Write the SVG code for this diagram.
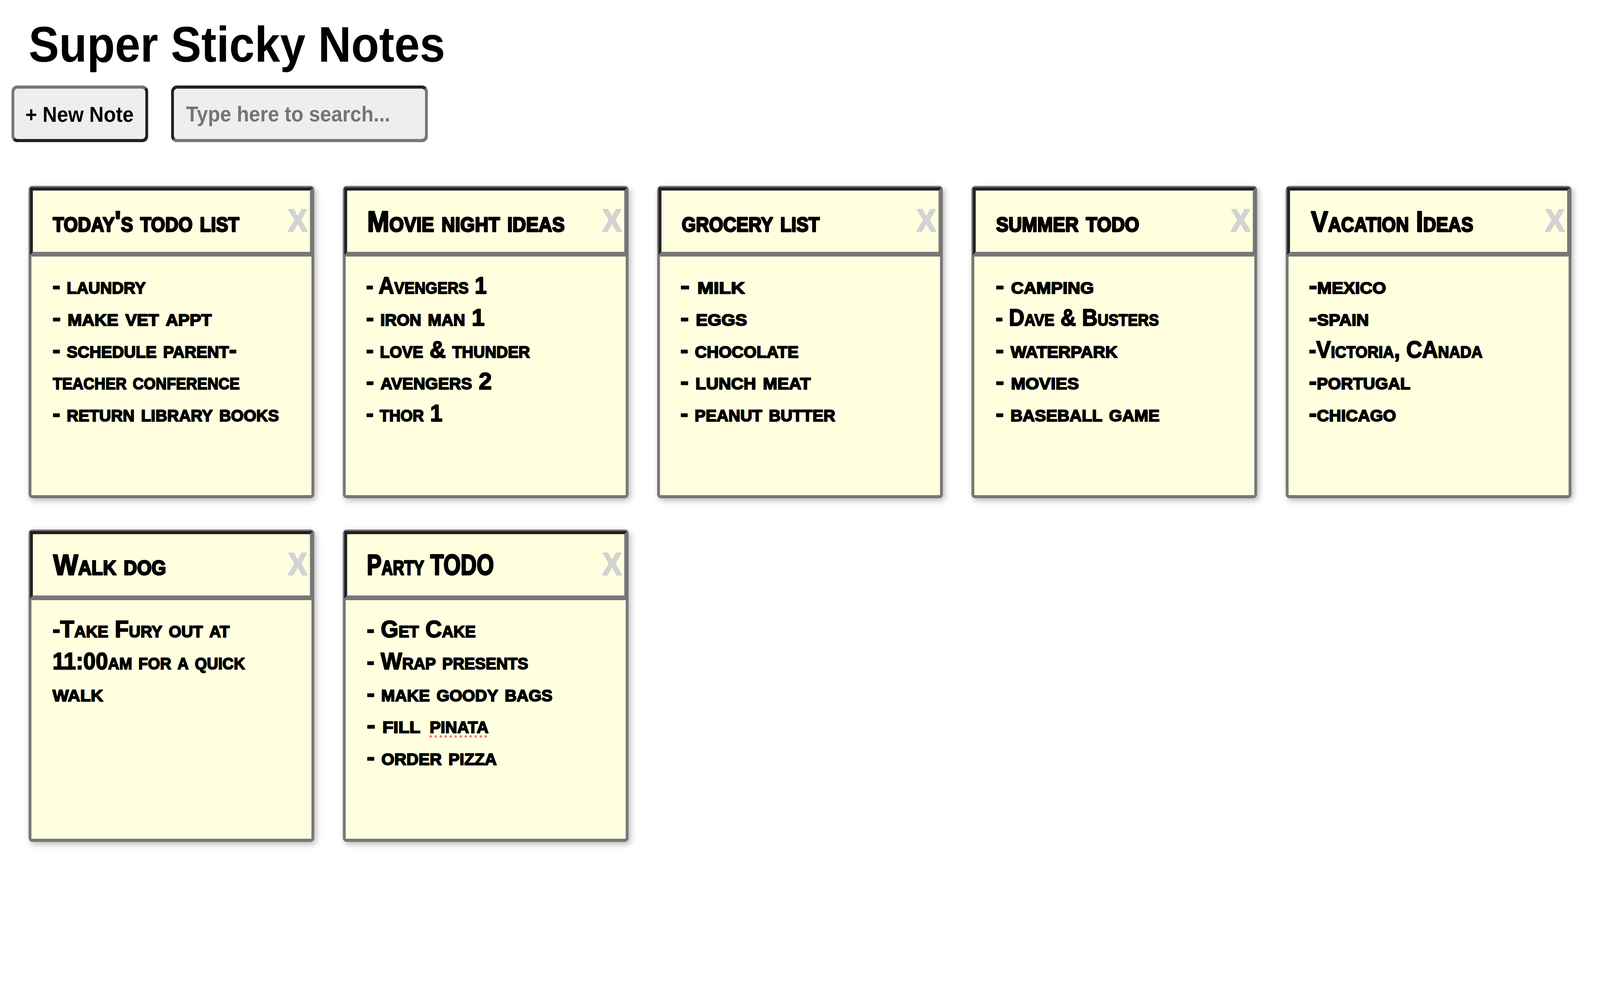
<svg xmlns="http://www.w3.org/2000/svg" xmlns:xlink="http://www.w3.org/1999/xlink" width="4480" height="2520" viewBox="0 0 4480 2520" preserveAspectRatio="none" style="width:100vw;height:100vh;display:block">
<style>
.title{font-family:"Liberation Sans",Arial,sans-serif;font-weight:bold;font-size:128px;fill:#000}
.btn{font-family:"Liberation Sans",Arial,sans-serif;font-weight:bold;font-size:56px;fill:#000}
.ph{font-family:"Liberation Sans",Arial,sans-serif;font-weight:bold;font-size:56px;fill:#757575}
.hd{font-family:"Liberation Sans",Arial,sans-serif;font-weight:bold;font-size:74px;font-variant:small-caps;fill:#000;stroke:#000;stroke-width:3.5px;stroke-linejoin:round}
.bd{font-family:"Liberation Sans",Arial,sans-serif;font-weight:bold;font-size:61px;font-variant:small-caps;fill:#000;stroke:#000;stroke-width:2.5px;stroke-linejoin:round}
.x{font-family:"Liberation Sans",Arial,sans-serif;font-weight:bold;font-size:80px;fill:#d3d3d3;stroke:#d3d3d3;stroke-width:4px;stroke-linejoin:round}
.grey{fill:#777}
.dark{fill:#212121}
.cream{fill:#ffffe0}
</style>
<defs>
<filter id="sh" x="-10%" y="-10%" width="125%" height="125%">
<feDropShadow dx="5" dy="6" stdDeviation="8" flood-color="#000" flood-opacity="0.28"/>
</filter>
<g id="frame">
<rect x="0" y="0" width="800" height="800" rx="10" class="grey" filter="url(#sh)"/>
<rect x="4" y="4" width="792" height="173" class="dark"/>
<polygon points="796,4 796,177 4,177 12,169 788,169 788,12" class="grey"/>
<rect x="12" y="12" width="776" height="157" class="cream"/>
<rect x="8" y="181" width="784" height="611" class="cream"/>
</g>
<clipPath id="cBtn"><rect x="32" y="219" width="383" height="145" rx="16"/></clipPath>
<clipPath id="cSearch"><rect x="479" y="219" width="719" height="145" rx="16"/></clipPath>
</defs>

<g id="title"><text class="title" x="80" y="158">Super Sticky Notes</text></g>

<g id="btn-new-note">
<g clip-path="url(#cBtn)">
<rect x="32" y="219" width="383" height="145" class="grey"/>
<polygon points="415,219 415,364 32,364 62,334 385,249" class="dark"/>
</g>
<rect x="40" y="227" width="367" height="129" rx="9" fill="#eeeeee"/>
<text class="btn" x="71" y="312">+ New Note</text>
</g>

<g id="search-box">
<g clip-path="url(#cSearch)">
<rect x="479" y="219" width="719" height="145" class="dark"/>
<polygon points="1198,219 1198,364 479,364 509,334 1168,249" class="grey"/>
</g>
<rect x="487" y="227" width="703" height="129" rx="9" fill="#eeeeee"/>
<text class="ph" x="521" y="311">Type here to search...</text>
</g>

<g id="connectors"></g>

<g id="note-todays-todo-list">
<use xlink:href="#frame" x="80" y="476"/>
<text class="hd" x="148" y="593" textLength="522" lengthAdjust="spacingAndGlyphs">today's todo list</text>
<text class="x" x="807" y="592">X</text>
<text class="bd" x="147" y="752" textLength="261" lengthAdjust="spacingAndGlyphs">- laundry</text>
<text class="bd" x="147" y="834" textLength="446" lengthAdjust="spacingAndGlyphs">- make vet appt</text>
<text class="bd" x="147" y="916" textLength="516" lengthAdjust="spacingAndGlyphs">- schedule parent-</text>
<text class="bd" x="148" y="997" textLength="523" lengthAdjust="spacingAndGlyphs">teacher conference</text>
<text class="bd" x="147" y="1079" textLength="634" lengthAdjust="spacingAndGlyphs">- return library books</text>
</g>

<g id="note-movie-night-ideas">
<use xlink:href="#frame" x="960" y="476"/>
<text class="hd" x="1028" y="593" textLength="553" lengthAdjust="spacingAndGlyphs">Movie night ideas</text>
<text class="x" x="1687" y="592">X</text>
<text class="bd" x="1025" y="752" textLength="338" lengthAdjust="spacingAndGlyphs">- Avengers 1</text>
<text class="bd" x="1025" y="834" textLength="332" lengthAdjust="spacingAndGlyphs">- iron man 1</text>
<text class="bd" x="1025" y="916" textLength="459" lengthAdjust="spacingAndGlyphs">- love &amp; thunder</text>
<text class="bd" x="1025" y="997" textLength="352" lengthAdjust="spacingAndGlyphs">- avengers 2</text>
<text class="bd" x="1025" y="1079" textLength="214" lengthAdjust="spacingAndGlyphs">- thor 1</text>
</g>

<g id="note-grocery-list">
<use xlink:href="#frame" x="1840" y="476"/>
<text class="hd" x="1909" y="593" textLength="386" lengthAdjust="spacingAndGlyphs">grocery list</text>
<text class="x" x="2567" y="592">X</text>
<text class="bd" x="1905" y="752" textLength="181" lengthAdjust="spacingAndGlyphs">- milk</text>
<text class="bd" x="1905" y="834" textLength="187" lengthAdjust="spacingAndGlyphs">- eggs</text>
<text class="bd" x="1905" y="916" textLength="331" lengthAdjust="spacingAndGlyphs">- chocolate</text>
<text class="bd" x="1905" y="997" textLength="365" lengthAdjust="spacingAndGlyphs">- lunch meat</text>
<text class="bd" x="1905" y="1079" textLength="434" lengthAdjust="spacingAndGlyphs">- peanut butter</text>
</g>

<g id="note-summer-todo">
<use xlink:href="#frame" x="2720" y="476"/>
<text class="hd" x="2789" y="593" textLength="401" lengthAdjust="spacingAndGlyphs">summer todo</text>
<text class="x" x="3447" y="592">X</text>
<text class="bd" x="2788" y="752" textLength="275" lengthAdjust="spacingAndGlyphs">- camping</text>
<text class="bd" x="2788" y="834" textLength="457" lengthAdjust="spacingAndGlyphs">- Dave &amp; Busters</text>
<text class="bd" x="2788" y="916" textLength="341" lengthAdjust="spacingAndGlyphs">- waterpark</text>
<text class="bd" x="2788" y="997" textLength="233" lengthAdjust="spacingAndGlyphs">- movies</text>
<text class="bd" x="2788" y="1079" textLength="459" lengthAdjust="spacingAndGlyphs">- baseball game</text>
</g>

<g id="note-vacation-ideas">
<use xlink:href="#frame" x="3600" y="476"/>
<text class="hd" x="3671" y="593" textLength="454" lengthAdjust="spacingAndGlyphs">Vacation Ideas</text>
<text class="x" x="4327" y="592">X</text>
<text class="bd" x="3665" y="752" textLength="216" lengthAdjust="spacingAndGlyphs">-mexico</text>
<text class="bd" x="3665" y="834" textLength="168" lengthAdjust="spacingAndGlyphs">-spain</text>
<text class="bd" x="3665" y="916" textLength="486" lengthAdjust="spacingAndGlyphs">-Victoria, CAnada</text>
<text class="bd" x="3665" y="997" textLength="284" lengthAdjust="spacingAndGlyphs">-portugal</text>
<text class="bd" x="3665" y="1079" textLength="244" lengthAdjust="spacingAndGlyphs">-chicago</text>
</g>

<g id="note-walk-dog">
<use xlink:href="#frame" x="80" y="1356"/>
<text class="hd" x="149" y="1472" textLength="316" lengthAdjust="spacingAndGlyphs">Walk dog</text>
<text class="x" x="807" y="1472">X</text>
<text class="bd" x="147" y="1632" textLength="496" lengthAdjust="spacingAndGlyphs">-Take Fury out at</text>
<text class="bd" x="147" y="1714" textLength="539" lengthAdjust="spacingAndGlyphs">11:00am for a quick</text>
<text class="bd" x="147" y="1796" textLength="142" lengthAdjust="spacingAndGlyphs">walk</text>
</g>

<g id="note-party-todo">
<use xlink:href="#frame" x="960" y="1356"/>
<text class="hd" x="1027" y="1472" textLength="356" lengthAdjust="spacingAndGlyphs">Party TODO</text>
<text class="x" x="1687" y="1472">X</text>
<text class="bd" x="1027" y="1632" textLength="305" lengthAdjust="spacingAndGlyphs">- Get Cake</text>
<text class="bd" x="1027" y="1714" textLength="452" lengthAdjust="spacingAndGlyphs">- Wrap presents</text>
<text class="bd" x="1027" y="1796" textLength="520" lengthAdjust="spacingAndGlyphs">- make goody bags</text>
<text class="bd" x="1027" y="1877"><tspan x="1027" textLength="150" lengthAdjust="spacingAndGlyphs">- fill</tspan><tspan x="1203" textLength="165" lengthAdjust="spacingAndGlyphs">pinata</tspan></text>
<line x1="1206" y1="1886" x2="1368" y2="1886" stroke="#ec6b60" stroke-width="6" stroke-linecap="round" stroke-dasharray="0 14"/>
<text class="bd" x="1027" y="1959" textLength="364" lengthAdjust="spacingAndGlyphs">- order pizza</text>
</g>
</svg>
